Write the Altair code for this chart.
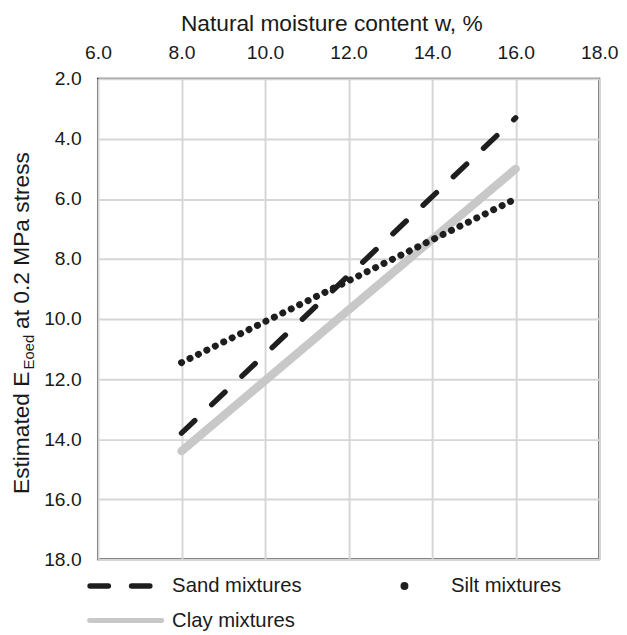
import altair as alt
import pandas as pd

# ---- data ----
series = ["Sand mixtures", "Silt mixtures", "Clay mixtures"]
w_values = [8.0, 16.0]
sand_E = [13.8, 3.3]
silt_E = [11.45, 6.0]
clay_E = [14.4, 5.0]
x_ticks = [6, 8, 10, 12, 14, 16, 18]
y_ticks = [2, 4, 6, 8, 10, 12, 14, 16, 18]

rows = []
# draw order: clay first, then sand, then silt on top
for name, vals in [("Clay mixtures", clay_E), ("Sand mixtures", sand_E), ("Silt mixtures", silt_E)]:
    for w, e in zip(w_values, vals):
        rows.append({"series": name, "w": w, "E": e})
df = pd.DataFrame(rows)

FONT = "Liberation Sans"
TXT = "#1a1a1a"
DARK = "#1e1e1e"
GREY = "#c8c8c8"
SAND_DASH = [18.5, 23.5]
SILT_DASH = [0.1, 9.4]

W, H = 507, 486

color_scale = alt.Scale(domain=series, range=[DARK, DARK, GREY])

lines = alt.Chart(df).mark_line(strokeCap="round").encode(
    x=alt.X("w:Q", scale=alt.Scale(domain=[6, 18], nice=False),
            axis=alt.Axis(orient="top", values=x_ticks, format=".1f",
                          title="Natural moisture content w, %",
                          titleX=236, titleAlign="center")),
    y=alt.Y("E:Q", scale=alt.Scale(domain=[2, 18], reverse=True, nice=False),
            axis=alt.Axis(values=y_ticks, format=".1f", title=None)),
    color=alt.Color("series:N", scale=color_scale, legend=None),
    strokeDash=alt.StrokeDash("series:N", scale=alt.Scale(domain=series, range=[SAND_DASH, SILT_DASH, [1, 0]]), legend=None),
    strokeWidth=alt.StrokeWidth("series:N", scale=alt.Scale(domain=series, range=[5.5, 8.5, 5]), legend=None),
    order=alt.Order("series:N", sort="descending"),
)

# ---- legend below the plot (drawn as marks) ----
one = pd.DataFrame({"k": [0]})
leg_sand = alt.Chart(one).mark_rule(color=DARK, strokeWidth=5.5, strokeDash=SAND_DASH, strokeCap="round").encode(
    x=alt.value(-8), x2=alt.value(52.5), y=alt.value(513))
leg_clay = alt.Chart(one).mark_rule(color=GREY, strokeWidth=5, strokeCap="round").encode(
    x=alt.value(-8.5), x2=alt.value(64.5), y=alt.value(548))
leg_silt = alt.Chart(one).mark_circle(color=DARK, opacity=1, size=64).encode(
    x=alt.value(310), y=alt.value(513))

def leg_text(label, x, y):
    return alt.Chart(pd.DataFrame({"t": [label]})).mark_text(
        align="left", baseline="middle", fontSize=20.5, font=FONT, color=TXT
    ).encode(text="t:N", x=alt.value(x), y=alt.value(y))

lt_sand = leg_text(series[0], 75, 513)
lt_silt = leg_text(series[1], 357, 513)
lt_clay = leg_text(series[2], 75, 548)

# ---- y-axis title with subscript, built from text pieces ----
title_parts = ["Estimated E", "Eoed", "at 0.2 MPa stress"]
def ytitle(label, size, x, y):
    return alt.Chart(pd.DataFrame({"t": [label]})).mark_text(
        angle=270, align="left", baseline="alphabetic", fontSize=size, font=FONT, color=TXT
    ).encode(text="t:N", x=alt.value(x), y=alt.value(y))

t1 = ytitle(title_parts[0], 23, -70, 420)
t2 = ytitle(title_parts[1], 15, -65, 294)
t3 = ytitle(title_parts[2], 23, -70, 253)

chart = alt.layer(
    lines, leg_sand, leg_clay, leg_silt, lt_sand, lt_silt, lt_clay, t1, t2, t3
).properties(
    width=W, height=H,
    autosize=alt.AutoSizeParams(type="none"),
    padding={"left": 91, "top": 68, "right": 20, "bottom": 72},
).configure_view(
    stroke="#3a3a3a", strokeWidth=2
).configure_axis(
    grid=True, gridColor="#d6d6d6", gridWidth=2, domain=False, ticks=False,
    labelFlush=False, labelOverlap=False,
    labelFont=FONT, labelFontSize=19.5, labelColor=TXT,
    titleFont=FONT, titleFontSize=23, titleFontWeight="normal", titleColor=TXT,
).configure_axisX(
    labelPadding=16, titlePadding=8,
).configure_axisY(
    labelPadding=17,
)

chart.save("out.html", embed_options={"renderer": "svg", "actions": False})
